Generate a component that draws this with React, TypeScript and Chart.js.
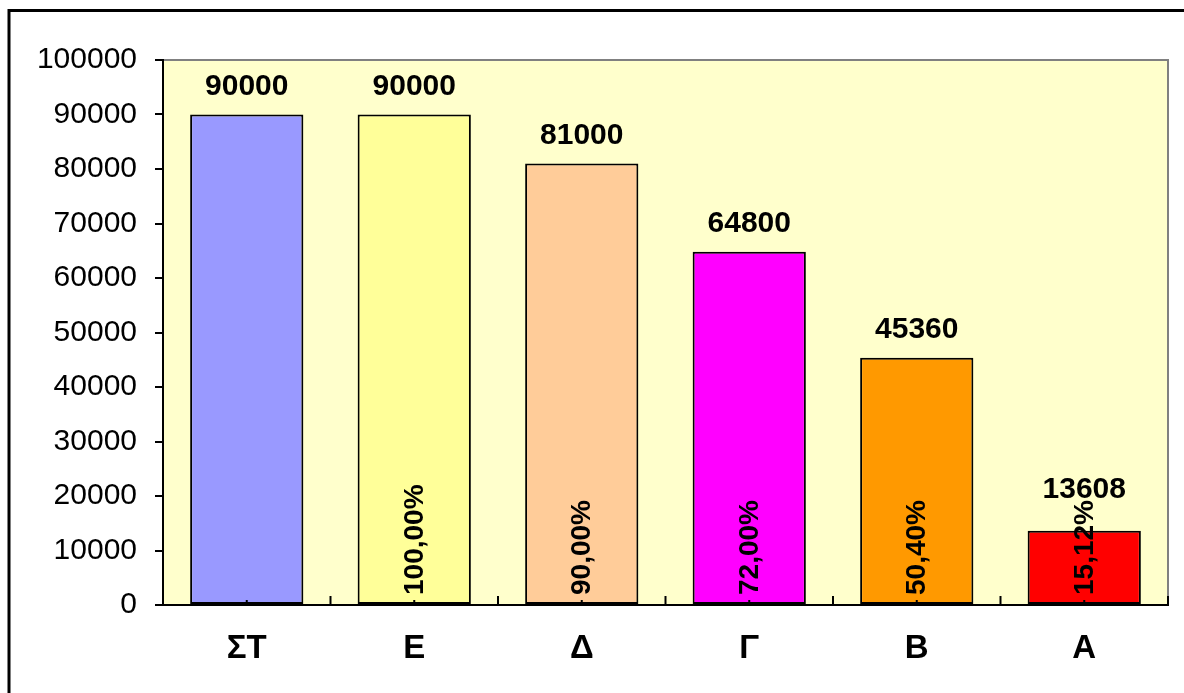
import React, { useEffect, useRef } from 'react';
import { Chart, registerables } from 'chart.js';

Chart.register(...registerables);

const categories = ['ΣΤ', 'Ε', 'Δ', 'Γ', 'Β', 'Α'];
const values = [90000, 90000, 81000, 64800, 45360, 13608];
const percentLabels = ['', '100,00%', '90,00%', '72,00%', '50,40%', '15,12%'];
const barColors = ['#9999FF', '#FFFF99', '#FFCC99', '#FF00FF', '#FF9900', '#FF0000'];
const yMin = 0;
const yMax = 100000;
const yStep = 10000;

const FONT = '"Liberation Sans", Arial, sans-serif';

const chartPlugin = {
  id: 'excelLook',
  beforeDraw(chart: any) {
    const { ctx, chartArea: a } = chart;
    ctx.save();
    ctx.fillStyle = '#FFFFFF';
    ctx.fillRect(0, 0, chart.width, chart.height);
    ctx.fillStyle = '#FFFFCC';
    ctx.fillRect(a.left, a.top, a.right - a.left, a.bottom - a.top);
    ctx.strokeStyle = '#808080';
    ctx.lineWidth = 2;
    ctx.beginPath();
    ctx.moveTo(a.left, a.top);
    ctx.lineTo(a.right, a.top);
    ctx.lineTo(a.right, a.bottom);
    ctx.stroke();
    ctx.strokeStyle = '#000000';
    ctx.lineWidth = 3;
    ctx.beginPath();
    ctx.moveTo(9, chart.height + 10);
    ctx.lineTo(9, 10.5);
    ctx.lineTo(chart.width + 10, 10.5);
    ctx.stroke();
    ctx.restore();
  },
  afterDatasetsDraw(chart: any) {
    const { ctx, chartArea: a } = chart;
    const xs = chart.scales.x;
    const ys = chart.scales.y;
    ctx.save();
    ctx.strokeStyle = '#000';
    ctx.lineWidth = 2;
    const n = categories.length;
    const step = xs.getPixelForValue(1) - xs.getPixelForValue(0);
    for (let i = 0; i < n; i++) {
      const c = xs.getPixelForValue(i);
      ctx.beginPath();
      ctx.moveTo(c, a.bottom);
      ctx.lineTo(c, a.bottom - 5);
      ctx.stroke();
      const b = c + step / 2;
      ctx.beginPath();
      ctx.moveTo(b, a.bottom);
      ctx.lineTo(b, a.bottom - 9);
      ctx.stroke();
    }
    ctx.fillStyle = '#000';
    const meta = chart.getDatasetMeta(0);
    for (let i = 0; i < n; i++) {
      const bar = meta.data[i];
      const cx = bar.x;
      const top = ys.getPixelForValue(values[i]);
      let labelY = top - 20;
      const pl = percentLabels[i];
      if (pl) {
        ctx.font = `bold 28px ${FONT}`;
        const w = ctx.measureText(pl).width;
        const startY = a.bottom - 10;
        const rotTop = startY - w;
        if (rotTop - 2 < labelY) labelY = rotTop - 2;
        ctx.save();
        ctx.translate(cx, startY);
        ctx.rotate(-Math.PI / 2);
        ctx.textAlign = 'left';
        ctx.textBaseline = 'middle';
        ctx.fillText(pl, 0, 1);
        ctx.restore();
      }
      ctx.font = `bold 30px ${FONT}`;
      ctx.textAlign = 'center';
      ctx.textBaseline = 'alphabetic';
      ctx.fillText(String(values[i]), cx, labelY);
    }
    ctx.restore();
  },
};

export default function App() {
  const ref = useRef<HTMLCanvasElement | null>(null);
  useEffect(() => {
    if (!ref.current) return;
    const chart = new Chart(ref.current, {
      type: 'bar',
      data: {
        labels: categories,
        datasets: [
          {
            data: values,
            backgroundColor: barColors,
            borderColor: '#000000',
            borderWidth: 2,
            borderSkipped: false,
            categoryPercentage: 1,
            barPercentage: 0.676,
          },
        ],
      },
      options: {
        animation: false,
        responsive: false,
        devicePixelRatio: 1,
        layout: { padding: { top: 60, right: 16, left: 0, bottom: 0 } },
        plugins: {
          legend: { display: false },
          tooltip: { enabled: false },
        },
        scales: {
          x: {
            grid: { display: true, drawOnChartArea: false, drawTicks: false },
            border: { display: true, color: '#000', width: 2, z: 1 },
            ticks: {
              color: '#000',
              font: { family: FONT, size: 33, weight: 'bold' },
              padding: 24,
              maxRotation: 0,
            },
            afterFit: (s: any) => {
              s.height = 88;
            },
          },
          y: {
            min: yMin,
            max: yMax,
            grid: { drawOnChartArea: false, drawTicks: true, tickLength: 8, color: '#000', lineWidth: 2 },
            border: { display: true, color: '#000', width: 2, z: 1 },
            ticks: {
              stepSize: yStep,
              color: '#000',
              font: { family: FONT, size: 30 },
              padding: 18,
              callback: (v: any) => String(v),
            },
            afterFit: (s: any) => {
              s.width = 163;
            },
          },
        },
      },
      plugins: [chartPlugin],
    });
    return () => chart.destroy();
  }, []);
  return (
    <div style={{ position: 'fixed', left: 0, top: 0, width: 1184, height: 693 }}>
      <canvas ref={ref} width={1184} height={693} style={{ display: 'block' }} />
    </div>
  );
}
